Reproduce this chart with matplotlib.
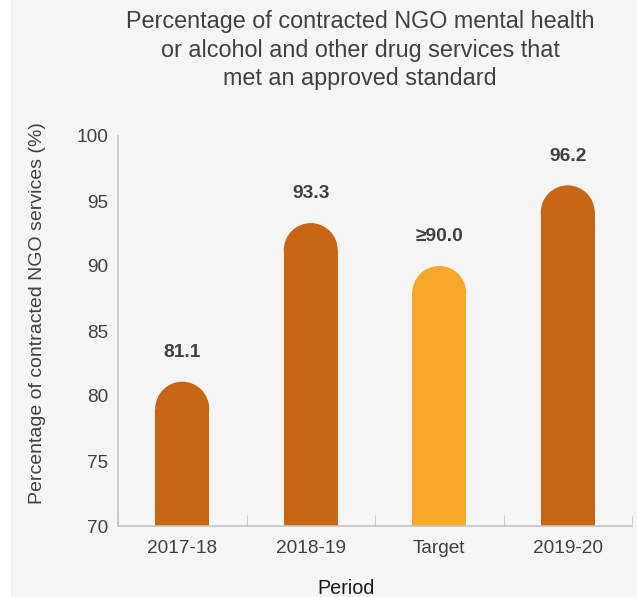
import matplotlib
matplotlib.use("Agg")
import matplotlib.pyplot as plt
from matplotlib.patches import Ellipse, Rectangle

plt.rcParams['font.family'] = ['Liberation Sans', 'DejaVu Sans']

periods = ["2017-18", "2018-19", "Target", "2019-20"]
values = [81.1, 93.3, 90.0, 96.2]
labels = ["81.1", "93.3", "\u226590.0", "96.2"]
colors = ["#C96616", "#C96616", "#F7A72A", "#C96616"]

bg = "#F5F5F5"
txt = "#404040"
axis_col = "#C4C4C4"

fig = plt.figure(figsize=(6.37, 5.97), dpi=100)
fig.patch.set_facecolor("white")
# grey panel (white strip on the left)
fig.patches.append(Rectangle((11 / 637, 0), 1, 1, transform=fig.transFigure,
                             facecolor=bg, edgecolor="none", zorder=-10))

ax = fig.add_axes([118 / 637, 1 - 526 / 597, 514 / 637, 390 / 597])
ax.set_facecolor(bg)
ax.set_xlim(-0.5, len(periods) - 0.5)
ax.set_ylim(70, 100)

bw = 0.42
# radius of rounded top in data units (y), from the axes scale
x0, y0 = ax.transData.transform((0, 70))
x1, y1 = ax.transData.transform((1, 71))
px_x = x1 - x0
px_y = y1 - y0
ry = (bw / 2) * px_x / px_y

for i, (v, c) in enumerate(zip(values, colors)):
    ax.bar(i, v - ry - 70, bottom=70, width=bw, color=c, edgecolor="none")
    ax.add_patch(Ellipse((i, v - ry), bw, 2 * ry, facecolor=c, edgecolor="none"))
    ax.annotate(labels[i], (i, v), xytext=(0, 21), textcoords="offset points",
                ha="center", va="center", fontsize=13.8, fontweight="bold", color=txt)

ax.set_yticks(range(70, 101, 5))
ax.set_xticks(range(len(periods)))
ax.set_xticklabels(periods)
ax.set_xticks([i - 0.5 for i in range(len(periods) + 1)], minor=True)
ax.tick_params(axis="x", which="major", length=0, pad=10, labelsize=13.7, colors=txt)
ax.tick_params(axis="x", which="minor", direction="in", length=8, color=axis_col)
ax.tick_params(axis="y", length=0, pad=7, labelsize=13.7, colors=txt)

for s in ["top", "right"]:
    ax.spines[s].set_visible(False)
for s in ["left", "bottom"]:
    ax.spines[s].set_color(axis_col)
    ax.spines[s].set_linewidth(1.2)

ax.set_ylabel("Percentage of contracted NGO services (%)", fontsize=14, color=txt)
ax.yaxis.label.set_va("center")
ax.yaxis.set_label_coords((38 - 118) / 514, (526 - 313) / 390)

ax.set_xlabel("Period", fontsize=14.2, color="#1A1A1A")
ax.xaxis.label.set_va("center")
ax.xaxis.set_label_coords((346 - 118) / 514, (526 - 588) / 390)

fig.text(360 / 637, 1 - 50 / 597,
         "Percentage of contracted NGO mental health\nor alcohol and other drug services that\nmet an approved standard",
         ha="center", va="center", fontsize=16.8, color=txt, linespacing=1.3)

fig.savefig("out.png", dpi=100, facecolor=fig.get_facecolor())
